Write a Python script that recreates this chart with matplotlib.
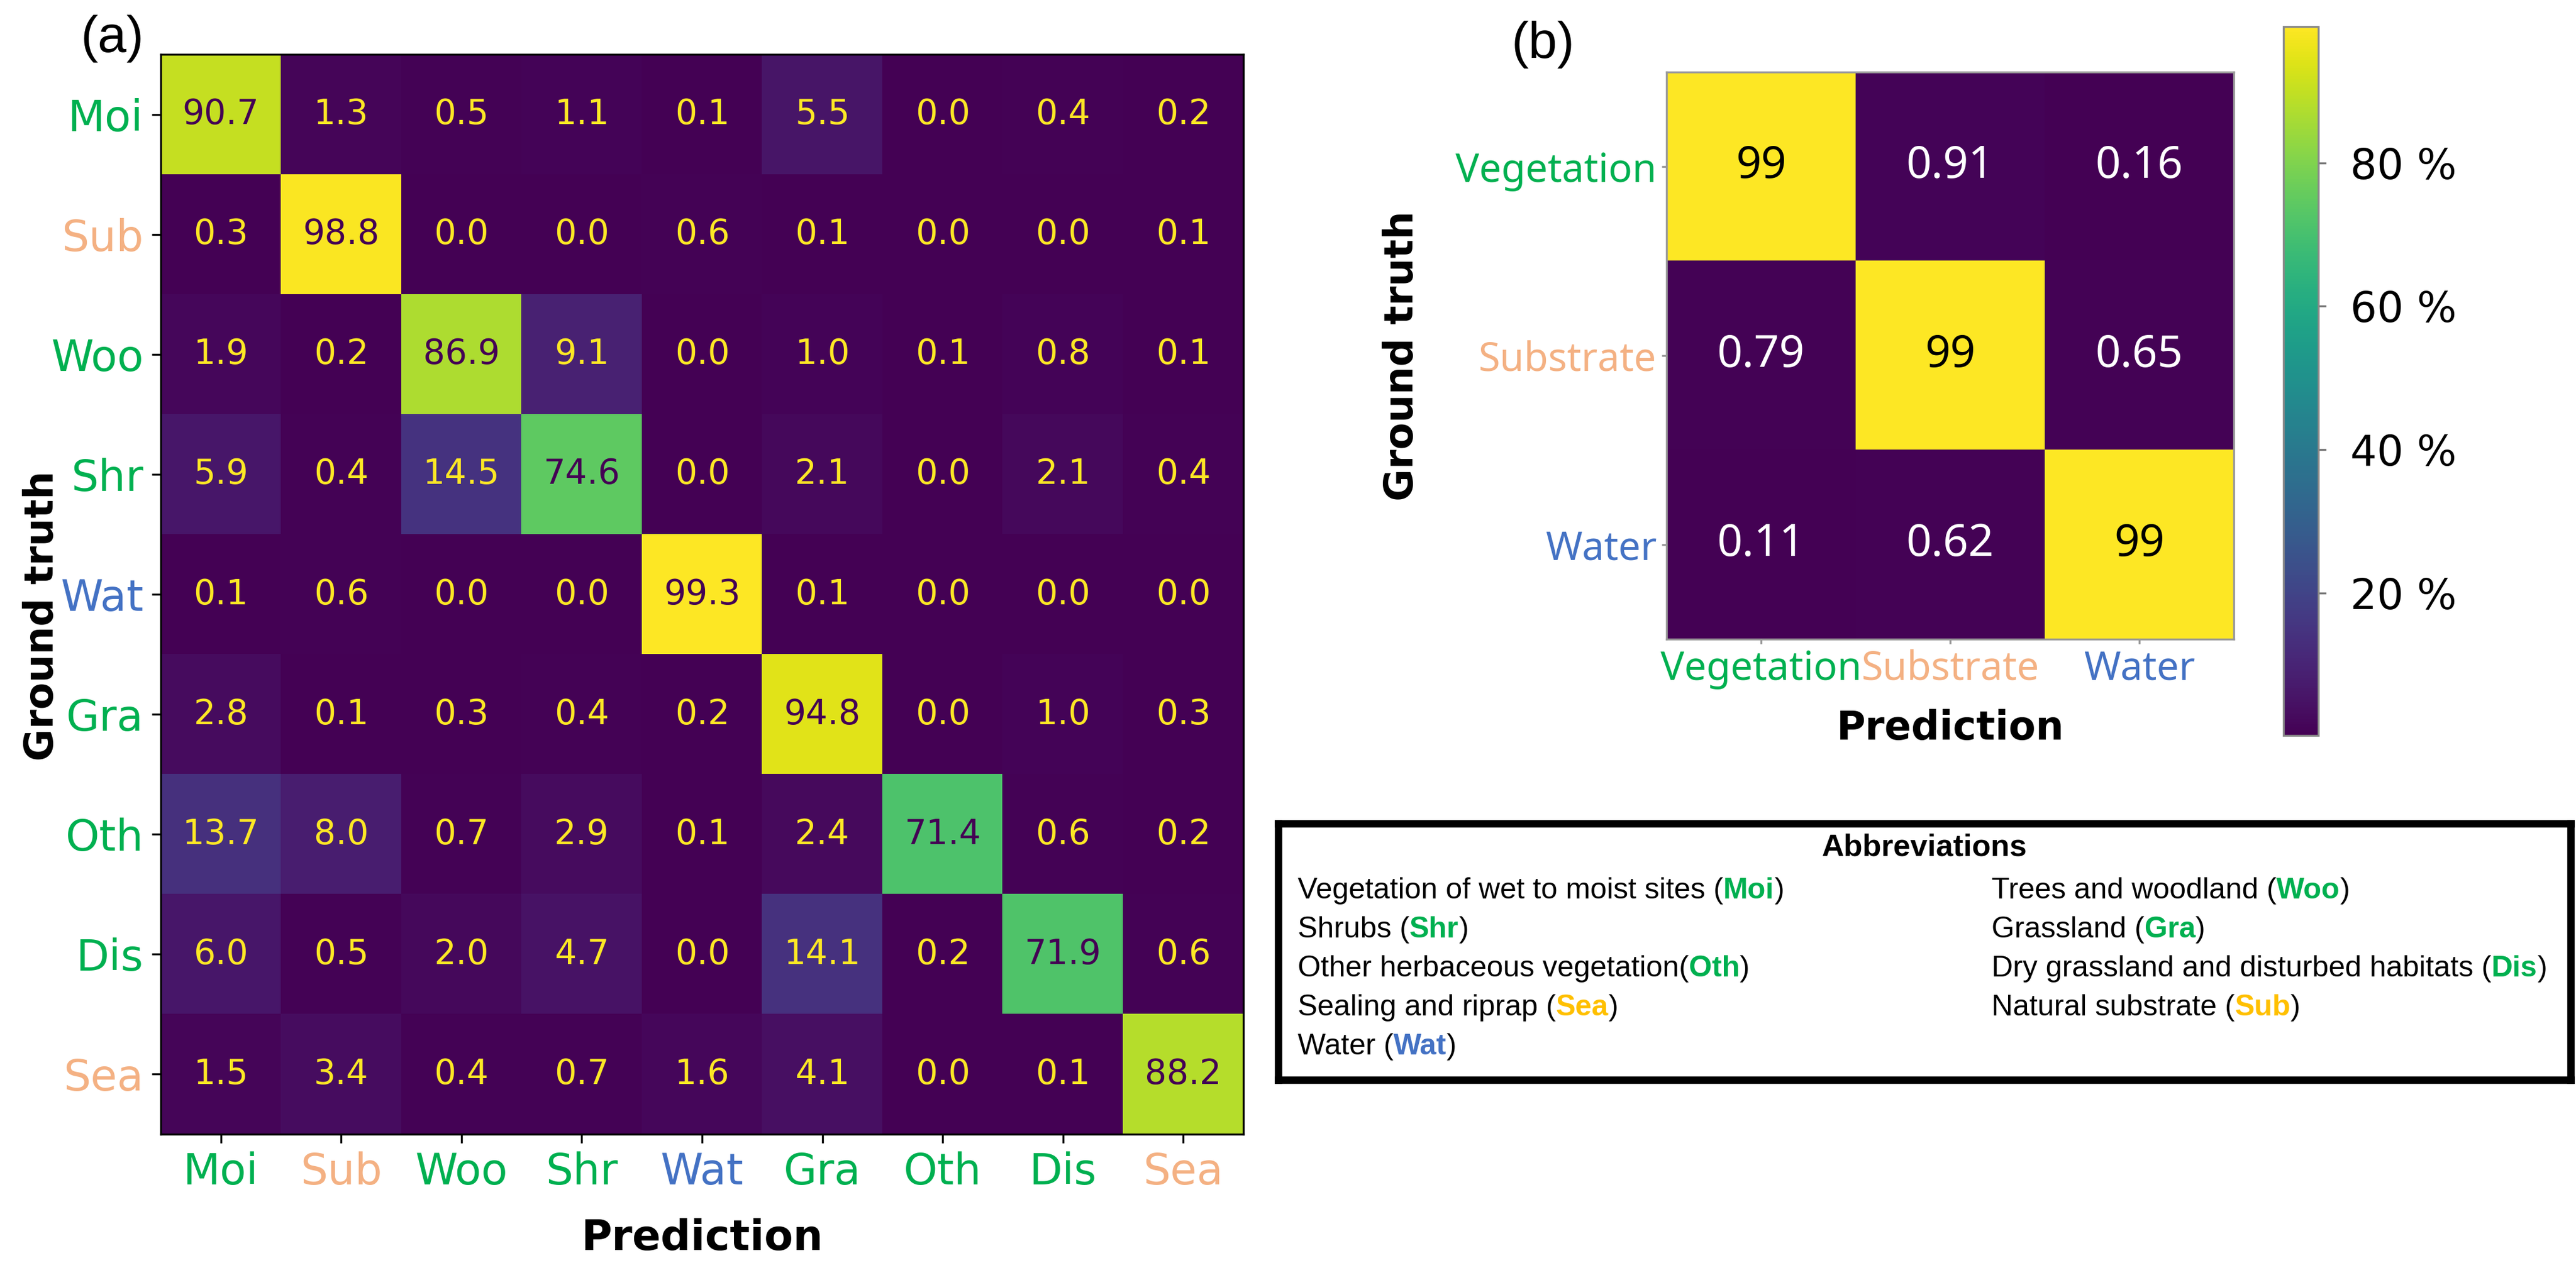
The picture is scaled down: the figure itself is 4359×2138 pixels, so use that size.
import numpy as np
import matplotlib.pyplot as plt

# Klassen und Konfusionsmatrix (a), Werte in Prozent
classes_a = ["Moi", "Sub", "Woo", "Shr", "Wat", "Gra", "Oth", "Dis", "Sea"]
cm_a = np.array([
    [90.7, 1.3, 0.5, 1.1, 0.1, 5.5, 0.0, 0.4, 0.2],
    [0.3, 98.8, 0.0, 0.0, 0.6, 0.1, 0.0, 0.0, 0.1],
    [1.9, 0.2, 86.9, 9.1, 0.0, 1.0, 0.1, 0.8, 0.1],
    [5.9, 0.4, 14.5, 74.6, 0.0, 2.1, 0.0, 2.1, 0.4],
    [0.1, 0.6, 0.0, 0.0, 99.3, 0.1, 0.0, 0.0, 0.0],
    [2.8, 0.1, 0.3, 0.4, 0.2, 94.8, 0.0, 1.0, 0.3],
    [13.7, 8.0, 0.7, 2.9, 0.1, 2.4, 71.4, 0.6, 0.2],
    [6.0, 0.5, 2.0, 4.7, 0.0, 14.1, 0.2, 71.9, 0.6],
    [1.5, 3.4, 0.4, 0.7, 1.6, 4.1, 0.0, 0.1, 88.2],
])

# Klassen und Konfusionsmatrix (b)
classes_b = ["Vegetation", "Substrate", "Water"]
cm_b = np.array([
    [99, 0.91, 0.16],
    [0.79, 99, 0.65],
    [0.11, 0.62, 99],
])
cbar_ticks = [20, 40, 60, 80]

# Abkuerzungen (linke Spalte, rechte Spalte)
abbr_left_names = ["Vegetation of wet to moist sites ", "Shrubs ", "Other herbaceous vegetation",
                   "Sealing and riprap ", "Water "]
abbr_left_codes = ["Moi", "Shr", "Oth", "Sea", "Wat"]
abbr_right_names = ["Trees and woodland ", "Grassland ", "Dry grassland and disturbed habitats ",
                    "Natural substrate "]
abbr_right_codes = ["Woo", "Gra", "Dis", "Sub"]

# Farben
GREEN = "#00B050"
PEACH = "#F4B183"
BLUE = "#4472C4"
GOLD = "#FFC000"
tick_col = {"Moi": GREEN, "Sub": PEACH, "Woo": GREEN, "Shr": GREEN, "Wat": BLUE,
            "Gra": GREEN, "Oth": GREEN, "Dis": GREEN, "Sea": PEACH,
            "Vegetation": GREEN, "Substrate": PEACH, "Water": BLUE}
box_col = {"Moi": GREEN, "Shr": GREEN, "Oth": GREEN, "Sea": GOLD, "Wat": BLUE,
           "Woo": GREEN, "Gra": GREEN, "Dis": GREEN, "Sub": GOLD}

W, H = 4359, 2138
fig = plt.figure(figsize=(W / 300, H / 300), dpi=300)
cmap = plt.get_cmap("viridis")

# ---------- (a) ----------
ax = fig.add_axes([272 / W, 1 - 1920 / H, 1832 / W, 1828 / H])
ax.imshow(cm_a, cmap=cmap, aspect="auto", vmin=cm_a.min(), vmax=cm_a.max())
thresh = (cm_a.max() + cm_a.min()) / 2
for i in range(cm_a.shape[0]):
    for j in range(cm_a.shape[1]):
        v = cm_a[i, j]
        c = cmap(0.0) if v >= thresh else cmap(1.0)
        ax.text(j, i, f"{v:.1f}", ha="center", va="center", color=c, fontsize=14)
ax.set_xticks(range(len(classes_a)))
ax.set_yticks(range(len(classes_a)))
ax.set_xticklabels(classes_a, fontsize=17.5)
ax.set_yticklabels(classes_a, fontsize=17.5)
for lab in ax.get_xticklabels() + ax.get_yticklabels():
    lab.set_color(tick_col[lab.get_text()])
ax.set_xlabel("Prediction", fontsize=17, fontweight="bold", labelpad=10)
ax.set_ylabel("Ground truth", fontsize=16, fontweight="bold")
ax.yaxis.set_label_coords((104 - 272) / 1832, 0.48)
fig.text(190 / W, 1 - 66 / H, "(a)", fontsize=21, ha="center", va="center",
         family="Liberation Sans")

# ---------- (b) ----------
bx = fig.add_axes([2820 / W, 1 - 1082 / H, 960 / W, 960 / H])
im = bx.imshow(cm_b, cmap=cmap, aspect="auto", vmin=cm_b.min(), vmax=cm_b.max())
for i in range(cm_b.shape[0]):
    for j in range(cm_b.shape[1]):
        v = cm_b[i, j]
        r, g, b, _ = im.cmap(im.norm(v))
        lum = 0.2126 * r + 0.7152 * g + 0.0722 * b
        bx.text(j, i, f"{v:.2g}", ha="center", va="center", fontsize=18,
                color="black" if lum > 0.408 else "white", family="Noto Sans")
bx.set_xticks(range(len(classes_b)))
bx.set_yticks(range(len(classes_b)))
bx.set_xticklabels(classes_b, fontsize=16, family="Noto Sans")
bx.set_yticklabels(classes_b, fontsize=16, family="Noto Sans")
for lab in bx.get_xticklabels() + bx.get_yticklabels():
    lab.set_color(tick_col[lab.get_text()])
bx.tick_params(length=2, color="#999999", pad=2)
for s in bx.spines.values():
    s.set_color("#999999")
    s.set_linewidth(0.8)
bx.set_xlabel("Prediction", fontsize=16, fontweight="bold", labelpad=8)
bx.set_ylabel("Ground truth", fontsize=16, fontweight="bold", labelpad=14)
fig.text(2611 / W, 1 - 75 / H, "(b)", fontsize=21, ha="center", va="center",
         family="Liberation Sans")

cax = fig.add_axes([3864 / W, 1 - 1245 / H, 59 / W, 1200 / H])
cb = fig.colorbar(im, cax=cax)
cb.set_ticks(cbar_ticks)
cb.set_ticklabels([f"{t} %" for t in cbar_ticks])
cb.ax.tick_params(labelsize=17, length=3, color="#777777", pad=10)
cb.outline.set_edgecolor("#888888")
cb.outline.set_linewidth(0.8)

# ---------- Abkuerzungen ----------
tx = fig.add_axes([2163 / W, 1 - 1828 / H, (4350 - 2163) / W, (1828 - 1394) / H])
tx.set_xticks([])
tx.set_yticks([])
for s in tx.spines.values():
    s.set_linewidth(3)
box_font = "Liberation Sans"
tx.text(0.5, 1 - 41 / 434, "Abbreviations", transform=tx.transAxes, ha="center", va="center",
        fontsize=12.5, fontweight="bold", family=box_font)


def colored_line(x, y, name, code):
    t = tx.text(x, y, name + "(", transform=tx.transAxes, ha="left", va="center",
                fontsize=12, family=box_font)
    t2 = tx.annotate(code, xy=(1, 0), xycoords=t, ha="left", va="bottom",
                     fontsize=12, family=box_font, fontweight="bold", color=box_col[code])
    tx.annotate(")", xy=(1, 0), xycoords=t2, ha="left", va="bottom",
                fontsize=12, family=box_font)


row_y = [1508, 1574, 1640, 1706, 1772]
for k, (n, c) in enumerate(zip(abbr_left_names, abbr_left_codes)):
    colored_line(33 / 2187, 1 - (row_y[k] - 1394) / 434, n, c)
for k, (n, c) in enumerate(zip(abbr_right_names, abbr_right_codes)):
    colored_line((3370 - 2163) / 2187, 1 - (row_y[k] - 1394) / 434, n, c)

fig.savefig("out.png", dpi=300)
